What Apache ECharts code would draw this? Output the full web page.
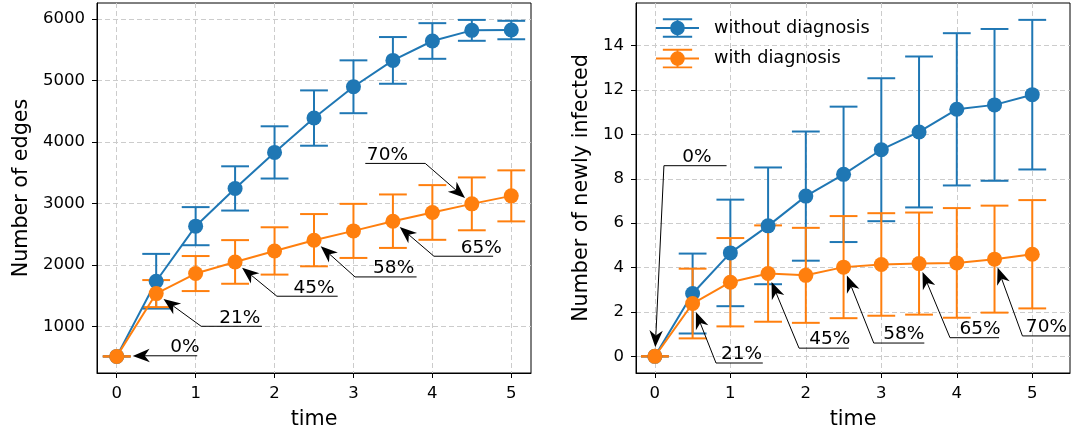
<!DOCTYPE html>
<html><head><meta charset="utf-8">
<script src="https://cdn.jsdelivr.net/npm/echarts@6/dist/echarts.min.js"></script>
<style>html,body{margin:0;padding:0;background:#fff}#c{width:1071px;height:436px}</style>
</head><body><div id="c"></div>
<script>
// ---------- data ----------
const times = [0, 0.5, 1, 1.5, 2, 2.5, 3, 3.5, 4, 4.5, 5];
const xTicks = [0, 1, 2, 3, 4, 5];
const edgesTicks = [1000, 2000, 3000, 4000, 5000, 6000];
const infTicks = [0, 2, 4, 6, 8, 10, 12, 14];

const edgesWithout    = [510, 1733, 2629, 3243, 3829, 4388, 4897, 5326, 5642, 5815, 5820];
const edgesWithoutErr = [0, 445, 310, 360, 425, 450, 430, 380, 290, 170, 150];
const edgesWith       = [510, 1532, 1858, 2047, 2226, 2401, 2552, 2710, 2852, 2992, 3122];
const edgesWithErr    = [0, 220, 285, 355, 385, 425, 440, 435, 445, 430, 415];

const infWithout    = [0, 2.83, 4.66, 5.88, 7.22, 8.20, 9.31, 10.11, 11.13, 11.33, 11.79];
const infWithoutErr = [0, 1.80, 2.40, 2.63, 2.91, 3.05, 3.22, 3.40, 3.43, 3.42, 3.37];
const infWith       = [0, 2.38, 3.34, 3.73, 3.65, 4.02, 4.14, 4.18, 4.21, 4.38, 4.60];
const infWithErr    = [0, 1.57, 1.99, 2.17, 2.14, 2.30, 2.31, 2.30, 2.47, 2.41, 2.44];

// annotations (point index into the "with diagnosis" series)
const annLabels = ['0%', '21%', '45%', '58%', '65%', '70%'];
const annIndex  = [0, 1, 3, 5, 7, 9];
const edgesAnnElbowX = [0.3, 1.07, 2.03, 3.02, 4.02, 3.91];
const edgesAnnLineY  = [520, 1000, 1489, 1803, 2140, 3650];
const edgesAnnEndX   = [1.02, 1.84, 2.80, 3.80, 4.77, 3.15];
const edgesAnnTextX  = [1.05, 1.82, 2.76, 3.77, 4.88, 3.17];
const infAnnElbowX = [0.12, 0.81, 1.91, 2.90, 3.91, 4.87];
const infAnnLineY  = [8.59, -0.30, 0.37, 0.60, 0.84, 0.92];
const infAnnEndX   = [0.95, 1.43, 2.57, 3.57, 4.56, 5.5];
const infAnnTextX  = [0.75, 1.42, 2.59, 3.57, 4.58, 5.46];

// ---------- style ----------
const BLUE = '#1f77b4', ORANGE = '#ff7f0e';
const FONT = 'DejaVu Sans';
const edgesAnnAlign = ['right', 'right', 'right', 'right', 'right', 'left'];
const infAnnAlign = ['right', 'right', 'right', 'right', 'right', 'right'];
const edgesTipGap = [16, 9, 9, 9, 9, 9];
const infTipGap = [9, 9, 9, 9, 9, 9];
const ICON = 'path://M0 9H44V11H0Z M21 0H23V20H21Z M7 0H37V2H7Z M7 18H37V20H7Z M29.5 10A7.5 7.5 0 1 1 14.5 10A7.5 7.5 0 1 1 29.5 10Z';

function errRender(color) {
  return function (params, api) {
    const x = api.value(0), y = api.value(1), e = api.value(2);
    const top = api.coord([x, y + e]), bot = api.coord([x, y - e]);
    const hw = 13.9;
    const st = { stroke: color, lineWidth: 2, fill: null };
    return { type: 'group', children: [
      { type: 'line', shape: { x1: top[0], y1: top[1], x2: bot[0], y2: bot[1] }, style: st },
      { type: 'line', shape: { x1: top[0] - hw, y1: top[1], x2: top[0] + hw, y2: top[1] }, style: st },
      { type: 'line', shape: { x1: bot[0] - hw, y1: bot[1], x2: bot[0] + hw, y2: bot[1] }, style: st }
    ]};
  };
}

function annRender(aligns, gaps) {
  return function (params, api) {
    const i = params.dataIndex;
    const t = api.coord([api.value(0), api.value(1)]);
    const el = api.coord([api.value(2), api.value(3)]);
    const en = api.coord([api.value(4), api.value(3)]);
    const tx = api.coord([api.value(5), api.value(3)]);
    const dx = t[0] - el[0], dy = t[1] - el[1];
    const L = Math.hypot(dx, dy) || 1;
    const ux = dx / L, uy = dy / L, nx = -uy, ny = ux;
    const tip = [t[0] - ux * gaps[i], t[1] - uy * gaps[i]];
    const headLen = 17, headW = 6.7, notch = 12;
    const base = [tip[0] - ux * headLen, tip[1] - uy * headLen];
    const p1 = [base[0] + nx * headW, base[1] + ny * headW];
    const p2 = [base[0] - nx * headW, base[1] - ny * headW];
    const nb = [tip[0] - ux * notch, tip[1] - uy * notch];
    return { type: 'group', children: [
      { type: 'polyline', shape: { points: [en, el, nb] }, style: { stroke: '#000', lineWidth: 1, fill: null } },
      { type: 'polygon', shape: { points: [tip, p1, nb, p2] }, style: { fill: '#000' } },
      { type: 'text', x: tx[0], y: tx[1] + 1, style: { text: annLabels[i], align: aligns[i], verticalAlign: 'bottom', fontSize: 18.5, fontFamily: FONT, fill: '#000' } }
    ]};
  };
}

function plainNum(v) { return String(v); }

function xAxisCfg(gi, max) {
  return {
    gridIndex: gi, type: 'value', min: -0.25, max: max,
    axisLine: { onZero: false, lineStyle: { color: '#000', width: 1 } },
    axisTick: { show: true, length: 5, customValues: xTicks, lineStyle: { color: '#000', width: 1 } },
    axisLabel: { customValues: xTicks, formatter: plainNum, fontSize: 16.5, color: '#000', fontFamily: FONT, margin: 12 },
    splitLine: { show: true, lineStyle: { type: [5, 3], color: '#cccccc', width: 1 } },
    name: 'time', nameLocation: 'middle', nameGap: 36,
    nameTextStyle: { fontSize: 20.7, color: '#000', fontFamily: FONT }
  };
}
function yAxisCfg(gi, min, max, ticks, name, gap) {
  return {
    gridIndex: gi, type: 'value', min: min, max: max,
    axisLine: { onZero: false, lineStyle: { color: '#000', width: 1 } },
    axisTick: { show: true, length: 5, customValues: ticks, lineStyle: { color: '#000', width: 1 } },
    axisLabel: { customValues: ticks, formatter: plainNum, fontSize: 16.5, color: '#000', fontFamily: FONT, margin: 12 },
    splitLine: { show: true, lineStyle: { type: [5, 3], color: '#cccccc', width: 1 } },
    name: name, nameLocation: 'middle', nameGap: gap, nameRotate: 90,
    nameTextStyle: { fontSize: 20.7, color: '#000', fontFamily: FONT }
  };
}

function lineSeries(name, gi, ys, color, z) {
  return {
    type: 'line', name: name, xAxisIndex: gi, yAxisIndex: gi,
    data: times.map((t, i) => [t, ys[i]]),
    symbol: 'circle', symbolSize: 15, showAllSymbol: true,
    lineStyle: { width: 2, color: color }, itemStyle: { color: color },
    emphasis: { disabled: true }, silent: true, z: z, animation: false
  };
}
function errSeries(gi, ys, errs, color, z) {
  return {
    type: 'custom', xAxisIndex: gi, yAxisIndex: gi,
    data: times.map((t, i) => [t, ys[i], errs[i]]),
    encode: { x: 0, y: 1 },
    renderItem: errRender(color), silent: true, z: z, animation: false
  };
}
function annSeries(gi, ys, elbowX, lineY, endX, textX, aligns, gaps) {
  return {
    type: 'custom', xAxisIndex: gi, yAxisIndex: gi,
    data: annIndex.map((k, i) => [times[k], ys[k], elbowX[i], lineY[i], endX[i], textX[i]]),
    encode: { x: 0, y: 1 },
    renderItem: annRender(aligns, gaps), silent: true, z: 10, animation: false, clip: false
  };
}

const chart = echarts.init(document.getElementById('c'), null, { renderer: 'canvas' });
chart.setOption({
  animation: false,
  backgroundColor: '#fff',
  grid: [
    { left: 97, top: 3, width: 434, height: 370, show: true, borderColor: '#000', borderWidth: 1, backgroundColor: 'transparent' },
    { left: 636, top: 3, width: 434, height: 370, show: true, borderColor: '#000', borderWidth: 1, backgroundColor: 'transparent' }
  ],
  legend: {
    data: [{ name: 'without diagnosis', icon: ICON }, { name: 'with diagnosis', icon: ICON }],
    orient: 'vertical', left: 656, top: 18, itemWidth: 43, itemHeight: 20, itemGap: 10.6,
    padding: 0, selectedMode: false,
    textStyle: { fontSize: 17.7, fontFamily: FONT, color: '#000', lineHeight: 20, padding: [0, 0, 0, 10] }
  },
  xAxis: [xAxisCfg(0, 5.25), xAxisCfg(1, 5.5)],
  yAxis: [
    yAxisCfg(0, 240, 6260, edgesTicks, 'Number of edges', 65),
    yAxisCfg(1, -0.75, 15.92, infTicks, 'Number of newly infected', 43.5)
  ],
  series: [
    errSeries(0, edgesWithout, edgesWithoutErr, BLUE, 2),
    errSeries(0, edgesWith, edgesWithErr, ORANGE, 2),
    lineSeries('without diagnosis', 0, edgesWithout, BLUE, 3),
    lineSeries('with diagnosis', 0, edgesWith, ORANGE, 4),
    annSeries(0, edgesWith, edgesAnnElbowX, edgesAnnLineY, edgesAnnEndX, edgesAnnTextX, edgesAnnAlign, edgesTipGap),
    errSeries(1, infWithout, infWithoutErr, BLUE, 2),
    errSeries(1, infWith, infWithErr, ORANGE, 2),
    lineSeries('without diagnosis', 1, infWithout, BLUE, 3),
    lineSeries('with diagnosis', 1, infWith, ORANGE, 4),
    annSeries(1, infWith, infAnnElbowX, infAnnLineY, infAnnEndX, infAnnTextX, infAnnAlign, infTipGap)
  ]
});
</script>
</body></html>
